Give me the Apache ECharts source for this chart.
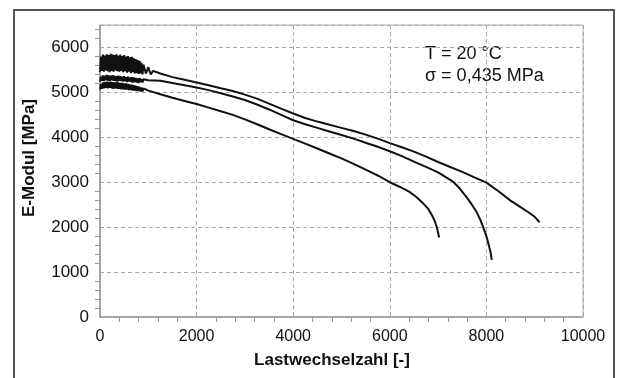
<!DOCTYPE html>
<html>
<head>
<meta charset="utf-8">
<script src="https://cdn.jsdelivr.net/npm/echarts@6/dist/echarts.min.js"></script>
<style>
    html, body { margin: 0; padding: 0; background: #fff; }
    #chart { width: 618px; height: 378px; }
</style>
</head>
<body>
<div id="chart"></div>
<script>
// Lastwechselzahl / E-Modul
// noisy start (0..900 cycles), shared x for all three curves
const bandX = [0, 20, 40, 60, 80, 100, 120, 140, 160, 180, 200, 220, 240, 260, 280, 300, 320, 340, 360, 380,
    400, 420, 440, 460, 480, 500, 520, 540, 560, 580, 600, 620, 640, 660, 680, 700, 720, 740, 760, 780,
    800, 820, 840, 860, 880, 900];

const topBandY = [5450, 5800, 5480, 5840, 5460, 5820, 5490, 5850, 5470, 5830, 5450, 5860, 5480, 5840, 5460, 5830, 5490, 5850, 5470, 5820,
    5460, 5840, 5480, 5810, 5450, 5830, 5470, 5800, 5440, 5810, 5460, 5780, 5430, 5790, 5450, 5760, 5420, 5740, 5430, 5720,
    5410, 5700, 5420, 5660, 5400, 5620];
const topX = [950, 1000, 1050, 1100, 1250, 1500, 1750, 2000, 2250, 2500, 2750, 3000, 3250, 3500, 3750, 4000, 4250, 4500, 4750, 5000,
    5250, 5500, 5750, 6000, 6250, 6500, 6750, 7000, 7250, 7500, 7750, 8000, 8250, 8500, 8700, 8900, 9000, 9100];
const topY = [5420, 5560, 5400, 5480, 5420, 5340, 5280, 5220, 5160, 5090, 5030, 4950, 4860, 4750, 4640, 4530, 4430, 4350, 4280, 4210,
    4140, 4060, 3970, 3870, 3780, 3680, 3570, 3450, 3340, 3230, 3110, 2990, 2800, 2590, 2450, 2310, 2230, 2110];

const midBandY = [5240, 5350, 5260, 5380, 5250, 5370, 5270, 5390, 5260, 5380, 5250, 5370, 5270, 5380, 5260, 5370, 5250, 5360, 5240, 5370,
    5260, 5360, 5250, 5350, 5240, 5360, 5250, 5340, 5230, 5350, 5240, 5330, 5230, 5340, 5220, 5330, 5230, 5320, 5220, 5310,
    5210, 5320, 5230, 5300, 5220, 5290];
const midX = [1000, 1250, 1500, 1750, 2000, 2250, 2500, 2750, 3000, 3250, 3500, 3750, 4000, 4250, 4500, 4750, 5000, 5250, 5500, 5750, 6000,
    6250, 6500, 6750, 7000, 7150, 7300, 7450, 7600, 7700, 7800, 7880, 7950, 8000, 8050, 8090, 8110];
const midY = [5270, 5260, 5210, 5160, 5110, 5050, 4980, 4910, 4830, 4730, 4620, 4500, 4380, 4290, 4210, 4130, 4050, 3970, 3880, 3790, 3690,
    3580, 3460, 3340, 3220, 3120, 3020, 2860, 2650, 2500, 2330, 2150, 1950, 1800, 1600, 1420, 1270];

const lowBandY = [5060, 5190, 5080, 5220, 5090, 5230, 5100, 5240, 5090, 5230, 5100, 5240, 5090, 5230, 5080, 5220, 5090, 5230, 5080, 5220,
    5080, 5210, 5070, 5210, 5070, 5200, 5060, 5200, 5060, 5190, 5050, 5180, 5050, 5170, 5040, 5160, 5040, 5150, 5030, 5140,
    5030, 5120, 5020, 5110, 5020, 5090];
const lowX = [1000, 1250, 1500, 1750, 2000, 2250, 2500, 2750, 3000, 3250, 3500, 3750, 4000, 4250, 4500, 4750, 5000, 5250, 5500, 5750, 6000,
    6200, 6400, 6550, 6700, 6800, 6870, 6930, 6970, 7000, 7020];
const lowY = [5040, 4960, 4880, 4810, 4740, 4660, 4580, 4500, 4400, 4290, 4180, 4070, 3965, 3860, 3750, 3640, 3530, 3410, 3280, 3150, 3000,
    2900, 2790, 2670, 2520, 2400, 2270, 2140, 2010, 1880, 1770];

const xTicks = [0, 2000, 4000, 6000, 8000, 10000];
const yTicks = [0, 1000, 2000, 3000, 4000, 5000, 6000];

const textLines = ['T = 20 °C', 'σ = 0,435 MPa'];

function pairs(xs, ys) {
    return xs.map((x, i) => [x, ys[i]]);
}

let chart = echarts.init(document.getElementById('chart'));

let lineStyle = { color: '#111', width: 2 };
let font = 'Liberation Sans, Arial, sans-serif';

let options = {
    animation: false,
    backgroundColor: '#fff',
    textStyle: { fontFamily: font },
    grid: {
        left: 100,
        right: 35,
        top: 25,
        bottom: 61,
        show: true,
        borderColor: '#aaa',
        borderWidth: 1
    },
    xAxis: {
        type: 'value',
        min: xTicks[0],
        max: xTicks[xTicks.length - 1],
        interval: 2000,
        axisLine: { lineStyle: { color: '#999', width: 1.5 } },
        axisTick: { show: false },
        minorTick: { show: true, splitNumber: 5, length: 5, lineStyle: { color: '#999' } },
        splitLine: { lineStyle: { color: '#aaa', type: [4, 3] } },
        axisLabel: { color: '#111', fontSize: 16, margin: 12, formatter: v => String(v) }
    },
    yAxis: {
        type: 'value',
        min: yTicks[0],
        max: 6500,
        interval: 1000,
        axisLine: { show: true, lineStyle: { color: '#999', width: 1.5 } },
        axisTick: { show: false },
        minorTick: { show: true, splitNumber: 5, length: 5, lineStyle: { color: '#999' } },
        splitLine: { lineStyle: { color: '#aaa', type: [4, 3] } },
        axisLabel: {
            color: '#111', fontSize: 17, margin: 11,
            formatter: v => (yTicks.indexOf(v) >= 0 ? String(v) : '')
        }
    },
    series: [
        { type: 'line', data: pairs(bandX.concat(topX), topBandY.concat(topY)), showSymbol: false, lineStyle: lineStyle },
        { type: 'line', data: pairs(bandX.concat(midX), midBandY.concat(midY)), showSymbol: false, lineStyle: lineStyle },
        { type: 'line', data: pairs(bandX.concat(lowX), lowBandY.concat(lowY)), showSymbol: false, lineStyle: lineStyle }
    ],
    graphic: [
        {
            type: 'rect',
            shape: { x: 14, y: 10, width: 600, height: 400 },
            style: { fill: 'none', stroke: '#555', lineWidth: 2 },
            silent: true
        },
        {
            type: 'text', x: 332, y: 360,
            style: {
                text: 'Lastwechselzahl [-]', fill: '#111', fontSize: 17, fontWeight: 'bold',
                fontFamily: font, textAlign: 'center', textVerticalAlign: 'middle'
            }
        },
        {
            type: 'text', x: 29, y: 158, rotation: Math.PI / 2,
            style: {
                text: 'E-Modul [MPa]', fill: '#111', fontSize: 17, fontWeight: 'bold',
                fontFamily: font, textAlign: 'center', textVerticalAlign: 'middle'
            }
        },
        {
            type: 'text', x: 425, y: 45,
            style: {
                text: textLines[0], fill: '#111', fontSize: 18,
                fontFamily: font, textAlign: 'left', textVerticalAlign: 'top'
            }
        },
        {
            type: 'text', x: 425, y: 67,
            style: {
                text: textLines[1], fill: '#111', fontSize: 18,
                fontFamily: font, textAlign: 'left', textVerticalAlign: 'top'
            }
        }
    ]
};

chart.setOption(options);
</script>
</body>
</html>
